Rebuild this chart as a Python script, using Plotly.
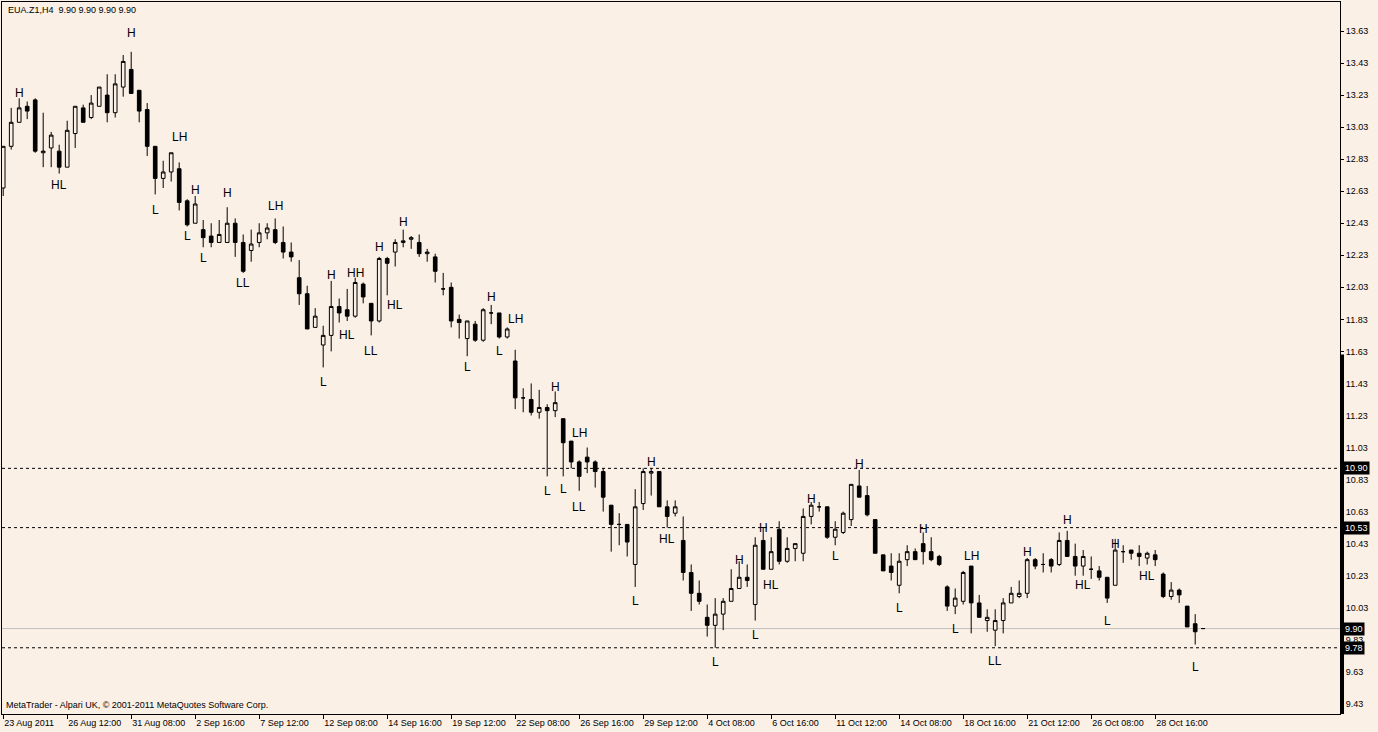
import plotly.graph_objects as go

# ---------------- data ----------------
opens = [12.65, 12.91, 13.06, 13.16, 13.20, 12.87, 12.90, 12.88, 12.78, 12.99,
         13.15, 13.09, 13.16, 13.23, 13.12, 13.28, 13.39, 13.26, 13.14, 12.91,
         12.71, 12.75, 12.77, 12.57, 12.43, 12.39, 12.35, 12.31, 12.31, 12.43,
         12.31, 12.26, 12.31, 12.37, 12.39, 12.31, 12.25, 12.09, 11.99, 11.78,
         11.67, 11.73, 11.91, 11.89, 11.85, 12.05, 11.93, 11.82, 12.21, 12.25,
         12.31, 12.33, 12.31, 12.24, 12.22, 12.02, 12.03, 11.83, 11.71, 11.80,
         11.70, 11.87, 11.87, 11.72, 11.57, 11.34, 11.33, 11.25, 11.28, 11.26,
         11.21, 11.07, 10.94, 10.97, 10.94, 10.88, 10.67, 10.55, 10.55, 10.30,
         10.68, 10.87, 10.88, 10.66, 10.62, 10.45, 10.25, 10.12, 9.97, 9.92,
         9.99, 10.07, 10.15, 10.22, 10.05, 10.45, 10.27, 10.52, 10.32, 10.40,
         10.37, 10.60, 10.66, 10.66, 10.47, 10.50, 10.58, 10.79, 10.73, 10.58,
         10.36, 10.29, 10.17, 10.33, 10.38, 10.43, 10.38, 10.35, 10.16, 10.04,
         10.07, 10.29, 10.06, 9.95, 9.89, 9.95, 10.06, 10.10, 10.12, 10.33,
         10.30, 10.33, 10.30, 10.45, 10.35, 10.29, 10.27, 10.26, 10.22, 10.17,
         10.38, 10.39, 10.37, 10.34, 10.36, 10.24, 10.10, 10.14, 10.04, 9.93,
         9.90]
highs = [12.91, 13.15, 13.21, 13.19, 13.21, 13.12, 13.00, 12.92, 13.07, 13.16,
         13.17, 13.23, 13.28, 13.36, 13.36, 13.48, 13.50, 13.26, 13.18, 12.91,
         12.82, 12.87, 12.81, 12.58, 12.60, 12.45, 12.43, 12.45, 12.53, 12.46,
         12.36, 12.39, 12.43, 12.43, 12.46, 12.41, 12.31, 12.20, 12.04, 11.90,
         11.79, 12.07, 11.96, 12.02, 12.09, 12.06, 11.93, 12.22, 12.22, 12.33,
         12.39, 12.35, 12.36, 12.27, 12.24, 12.12, 12.06, 11.86, 11.82, 11.82,
         11.90, 11.92, 11.87, 11.78, 11.64, 11.40, 11.43, 11.39, 11.30, 11.38,
         11.21, 11.07, 10.95, 11.03, 10.95, 10.90, 10.67, 10.62, 10.55, 10.77,
         10.90, 10.90, 10.88, 10.70, 10.70, 10.60, 10.30, 10.20, 10.05, 10.09,
         10.09, 10.27, 10.32, 10.30, 10.47, 10.53, 10.47, 10.57, 10.47, 10.43,
         10.65, 10.69, 10.69, 10.66, 10.57, 10.63, 10.80, 10.89, 10.79, 10.58,
         10.36, 10.37, 10.37, 10.42, 10.40, 10.50, 10.47, 10.36, 10.17, 10.15,
         10.26, 10.29, 10.11, 10.02, 10.02, 10.09, 10.16, 10.20, 10.34, 10.34,
         10.37, 10.34, 10.50, 10.51, 10.43, 10.39, 10.35, 10.29, 10.22, 10.46,
         10.42, 10.39, 10.42, 10.38, 10.39, 10.25, 10.19, 10.15, 10.04, 9.99,
         9.90]
lows = [12.60, 12.89, 13.06, 13.08, 12.87, 12.78, 12.78, 12.74, 12.78, 12.90,
        13.06, 13.08, 13.16, 13.06, 13.09, 13.22, 13.24, 13.06, 12.85, 12.61,
        12.65, 12.69, 12.51, 12.41, 12.43, 12.28, 12.28, 12.31, 12.31, 12.22,
        12.12, 12.19, 12.28, 12.33, 12.30, 12.21, 12.19, 11.92, 11.77, 11.78,
        11.53, 11.63, 11.81, 11.82, 11.84, 11.93, 11.73, 11.81, 11.98, 12.16,
        12.28, 12.27, 12.22, 12.19, 12.06, 11.98, 11.78, 11.71, 11.60, 11.69,
        11.69, 11.80, 11.71, 11.71, 11.27, 11.25, 11.23, 11.21, 10.85, 11.22,
        10.85, 10.90, 10.76, 10.87, 10.78, 10.63, 10.38, 10.42, 10.35, 10.16,
        10.64, 10.73, 10.66, 10.53, 10.60, 10.20, 10.01, 10.05, 9.85, 9.78,
        9.89, 10.07, 10.15, 10.16, 9.95, 10.27, 10.27, 10.30, 10.31, 10.32,
        10.32, 10.55, 10.63, 10.46, 10.42, 10.49, 10.54, 10.72, 10.60, 10.37,
        10.26, 10.20, 10.12, 10.29, 10.33, 10.30, 10.32, 10.29, 10.01, 9.99,
        10.05, 9.87, 9.97, 9.88, 9.79, 9.87, 10.06, 10.09, 10.09, 10.27,
        10.25, 10.25, 10.29, 10.35, 10.23, 10.23, 10.21, 10.20, 10.06, 10.17,
        10.31, 10.33, 10.29, 10.30, 10.29, 10.09, 10.08, 10.06, 9.91, 9.80,
        9.90]
closes = [12.91, 13.06, 13.15, 13.13, 12.88, 12.88, 12.98, 12.78, 13.01, 13.16,
          13.06, 13.18, 13.28, 13.12, 13.30, 13.44, 13.24, 13.13, 12.91, 12.71,
          12.75, 12.87, 12.56, 12.42, 12.55, 12.34, 12.31, 12.36, 12.43, 12.31,
          12.13, 12.30, 12.37, 12.40, 12.31, 12.25, 12.22, 11.99, 11.77, 11.85,
          11.73, 11.91, 11.87, 11.85, 12.06, 11.97, 11.82, 12.21, 12.18, 12.31,
          12.32, 12.34, 12.24, 12.25, 12.13, 12.02, 11.82, 11.81, 11.82, 11.70,
          11.89, 11.87, 11.72, 11.77, 11.34, 11.34, 11.25, 11.28, 11.26, 11.31,
          11.06, 10.94, 10.85, 10.94, 10.88, 10.72, 10.55, 10.55, 10.44, 10.66,
          10.88, 10.88, 10.66, 10.60, 10.66, 10.25, 10.12, 10.07, 9.92, 9.99,
          10.07, 10.15, 10.22, 10.20, 10.42, 10.27, 10.38, 10.32, 10.40, 10.43,
          10.60, 10.67, 10.66, 10.47, 10.52, 10.62, 10.80, 10.72, 10.61, 10.37,
          10.26, 10.25, 10.32, 10.38, 10.33, 10.38, 10.33, 10.30, 10.04, 10.09,
          10.25, 10.06, 9.97, 9.97, 9.95, 10.06, 10.12, 10.12, 10.33, 10.29,
          10.30, 10.29, 10.45, 10.35, 10.29, 10.35, 10.27, 10.22, 10.09, 10.39,
          10.38, 10.37, 10.35, 10.37, 10.33, 10.10, 10.14, 10.11, 9.91, 9.88,
          9.90]

tick_bars = [0, 8, 16, 24, 32, 40, 48, 56, 64, 72, 80, 88, 96, 104, 112, 120, 128, 136, 144]
tick_labels = ["23 Aug 2011", "26 Aug 12:00", "31 Aug 08:00", "2 Sep 16:00", "7 Sep 12:00",
               "12 Sep 08:00", "14 Sep 16:00", "19 Sep 12:00", "22 Sep 08:00", "26 Sep 16:00",
               "29 Sep 12:00", "4 Oct 08:00", "6 Oct 16:00", "11 Oct 12:00", "14 Oct 08:00",
               "18 Oct 16:00", "21 Oct 12:00", "26 Oct 08:00", "28 Oct 16:00"]

price_ticks = [13.63, 13.43, 13.23, 13.03, 12.83, 12.63, 12.43, 12.23, 12.03, 11.83, 11.63,
               11.43, 11.23, 11.03, 10.83, 10.63, 10.43, 10.23, 10.03, 9.83, 9.63, 9.43]

level_lines = [10.90, 10.53, 9.78]
bid_price = 9.90

# swing labels: bar index, text, price where the text sits
swing_bars = [2, 16, 7, 22, 19, 24, 23, 28, 25, 30, 34, 41, 40, 44, 43, 46, 47, 49, 50,
              58, 61, 62, 64, 69, 68, 70, 72, 72, 79, 81, 83, 89, 92, 94, 95, 96, 101,
              104, 107, 115, 112, 119, 121, 124, 128, 133, 135, 138, 139, 143, 149]
swing_text = ["H", "H", "HL", "LH", "L", "H", "L", "H", "L", "LL", "LH", "H", "L", "HH", "HL",
              "LL", "H", "HL", "H", "L", "H", "L", "LH", "H", "L", "L", "LH", "LL", "L", "H",
              "HL", "L", "H", "L", "H", "HL", "H", "L", "H", "H", "L", "L", "LH", "LL", "H",
              "H", "HL", "L", "H", "HL", "L"]
swing_price = [13.24, 13.62, 12.67, 12.97, 12.51, 12.64, 12.35, 12.62, 12.21, 12.06, 12.54,
               12.11, 11.44, 12.12, 11.73, 11.63, 12.28, 11.92, 12.44, 11.53, 11.97, 11.63,
               11.83, 11.41, 10.76, 10.77, 11.12, 10.66, 10.07, 10.94, 10.46, 9.69, 10.33,
               9.86, 10.53, 10.17, 10.71, 10.35, 10.93, 10.52, 10.03, 9.90, 10.35, 9.70,
               10.38, 10.58, 10.17, 9.95, 10.43, 10.23, 9.66]

title_text = "EUA.Z1,H4  9.90 9.90 9.90 9.90"
footer_text = "MetaTrader - Alpari UK, \u00a9 2001-2011 MetaQuotes Software Corp."

# ---------------- figure ----------------
BG = "#FAF0E6"
FONT = "Liberation Sans, Arial, sans-serif"
bars = list(range(len(opens)))

fig = go.Figure()
fig.add_trace(go.Candlestick(
    x=bars, open=opens, high=highs, low=lows, close=closes,
    increasing=dict(line=dict(color="black", width=1), fillcolor=BG),
    decreasing=dict(line=dict(color="black", width=1), fillcolor="black"),
    whiskerwidth=0, hoverinfo="skip", showlegend=False,
))

shapes = []
for lv in level_lines:
    shapes.append(dict(type="line", xref="paper", x0=0, x1=1, yref="y", y0=lv, y1=lv,
                       line=dict(color="black", width=1, dash="3px,3px"), layer="below"))
shapes.append(dict(type="line", xref="paper", x0=0, x1=1, yref="y", y0=bid_price, y1=bid_price,
                   line=dict(color="#C0C0C0", width=1), layer="below"))
# thick segment on the price scale
shapes.append(dict(type="line", xref="paper", x0=1.0015, x1=1.0015, yref="paper", y0=0, y1=0.505,
                   line=dict(color="black", width=4)))

annotations = []
for b, t, p in zip(swing_bars, swing_text, swing_price):
    annotations.append(dict(x=b, y=p, xref="x", yref="y", text=t, showarrow=False,
                            xanchor="center", yanchor="middle",
                            font=dict(family=FONT, size=12, color="black")))
for lv in level_lines + [bid_price]:
    annotations.append(dict(x=1, y=lv, xref="paper", yref="y", text="%.2f" % lv, showarrow=False,
                            xanchor="left", yanchor="middle", xshift=3, bgcolor="black",
                            borderpad=1, font=dict(family=FONT, size=9, color="white")))
annotations.append(dict(x=0.003, y=0.989, xref="paper", yref="paper", text=title_text,
                        showarrow=False, xanchor="left", yanchor="middle",
                        font=dict(family=FONT, size=9, color="black")))
annotations.append(dict(x=0.0015, y=0.0126, xref="paper", yref="paper", text=footer_text,
                        showarrow=False, xanchor="left", yanchor="middle",
                        font=dict(family=FONT, size=9, color="black")))

fig.update_layout(
    width=1378, height=732,
    margin=dict(l=2, r=38, t=2, b=18, autoexpand=False),
    paper_bgcolor=BG, plot_bgcolor=BG,
    showlegend=False,
    boxgap=0.35,
    hovermode=False,
    shapes=shapes, annotations=annotations,
    font=dict(family=FONT, size=9, color="black"),
    xaxis=dict(range=[-0.15, 167.1], tickmode="array", tickvals=tick_bars, ticktext=tick_labels,
               ticks="outside", ticklen=4, tickcolor="black", ticklabelposition="outside right",
               showgrid=False, zeroline=False, showline=True, mirror=True, linecolor="black",
               linewidth=1, rangeslider=dict(visible=False), tickfont=dict(family=FONT, size=9),
               automargin=False),
    yaxis=dict(range=[9.3666, 13.811], side="right", tickmode="array", tickvals=price_ticks,
               ticktext=["%.2f" % v for v in price_ticks], ticks="outside", ticklen=3,
               tickcolor="black", showgrid=False, zeroline=False, showline=True, mirror=True,
               linecolor="black", linewidth=1, tickfont=dict(family=FONT, size=9),
               automargin=False),
)

fig.write_html("out.html", config={"displayModeBar": False},
               post_script="document.body.style.margin='0';document.body.style.overflow='hidden';")
